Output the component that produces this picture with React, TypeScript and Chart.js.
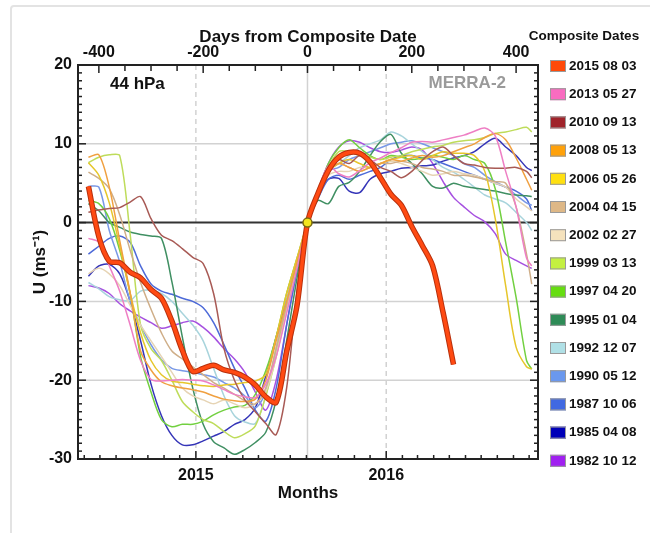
import React, { useEffect, useRef } from "react";
import { Chart, registerables } from "chart.js";

Chart.register(...registerables);

const FONT = '"Liberation Sans", Arial, Helvetica, sans-serif';

// x grid (days from composite date)
const DAYS = [-420, -400, -380, -360, -340, -320, -300, -280, -260, -240, -220, -200, -180, -160, -140, -120, -100, -80, -60, -40, -20,
  0, 20, 40, 60, 80, 100, 120, 140, 160, 180, 200, 220, 240, 260, 280, 300, 320, 340, 360, 380, 400, 420, 430];

const U_2015 = [4.6, -1.8, -4.9, -5.1, -6.3, -7.0, -8.5, -9.6, -12.5, -16.2, -18.9, -18.5, -18.1, -18.7, -19.0, -19.6, -20.6, -22.1, -22.8, -16.4, -10.5,
  0, 3.7, 6.6, 8.3, 8.9, 8.8, 7.7, 5.7, 3.6, 2.2, -0.5, -2.9, -5.5, -11.4, -18.0, null, null, null, null, null, null, null, null];
const U_2013 = [-2.0, -2.5, -5.5, -8.7, -13.0, -17.5, -19.9, -20.1, -20.0, -19.9, -20.0, -20.1, -20.6, -21.2, -21.8, -22.1, -22.2, -20.5, -17.0, -11.5, -5.8,
  0, 4.0, 7.2, 6.2, 5.8, 6.6, 7.6, 8.2, 8.9, 9.5, 10.2, 10.3, 10.2, 10.5, 10.8, 11.1, 11.6, 12.0, 11.0, 6.5, 2.0, -4.5, -5.5];
const U_2010 = [1.3, 1.6, 1.8, 1.9, 2.6, 3.3, 0.5, -1.6, -2.3, -3.3, -4.4, -5.2, -9.0, -16.0, -20.0, -22.5, -24.0, -25.5, -26.9, -21.0, -8.7,
  0, 4.0, 7.0, 8.0, 7.5, 8.5, 8.0, 7.0, 6.5, 5.7, 6.5, 7.9, 9.0, 9.6, 8.5, 7.5, 7.3, 7.0, 6.9, 6.9, 7.0, 6.5, 5.7];
const U_2008 = [8.3, 8.6, 4.5, -2.3, -8.9, -16.3, -18.7, -20.2, -20.7, -21.0, -21.2, -21.5, -22.0, -22.4, -22.6, -22.7, -22.4, -20.0, -15.0, -10.0, -5.0,
  0, 3.8, 6.5, 7.5, 7.0, 6.5, 7.0, 7.5, 8.0, 7.8, 8.2, 8.5, 8.3, 8.5, 9.0, 9.5, 10.0, 10.8, 11.3, 10.5, 8.2, 5.5, 4.1];
const U_2006 = [7.6, 6.0, 2.5, -3.0, -9.0, -14.0, -17.5, -19.3, -20.1, -20.3, -20.5, -20.7, -20.8, -20.6, -20.5, -20.3, -20.1, -19.3, -14.5, -9.0, -4.5,
  0, 3.5, 6.5, 7.5, 8.0, 7.5, 7.0, 7.5, 8.0, 8.3, 8.5, 8.0, 8.5, 9.0, 8.8, 8.8, 8.5, 6.5, 0.5, -8.0, -15.8, -18.3, -18.6];
const U_2004 = [6.4, 5.6, 4.3, 1.0, -3.5, -7.6, -11.0, -14.0, -16.3, -17.3, -18.3, -19.3, -20.3, -21.0, -21.8, -22.6, -23.0, -21.0, -16.0, -10.5, -5.0,
  0, 3.5, 6.5, 7.5, 7.0, 6.5, 7.0, 7.5, 7.5, 7.8, 7.5, 7.0, 6.8, 6.5, 6.0, 6.0, 5.8, 5.5, 5.2, 5.0, 2.0, -4.0, -7.8];
const U_2002 = [-6.5, -5.8, -6.5, -8.0, -10.5, -13.0, -15.0, -17.0, -19.0, -21.0, -22.0, -22.5, -23.0, -22.5, -23.0, -23.5, -23.0, -21.5, -17.0, -11.0, -5.0,
  0, 3.5, 6.0, 6.5, 6.5, 7.0, 7.0, 7.5, 7.8, 7.5, 7.0, 6.5, 6.0, 6.2, 6.5, 6.2, 6.0, 5.5, 5.0, 4.5, 3.0, 2.0, 1.5];
const U_1999 = [7.6, 8.3, 8.6, 8.5, -1.5, -13.0, -16.0, -17.5, -20.0, -22.7, -24.0, -25.0, -25.5, -26.5, -27.3, -26.8, -25.8, -22.0, -17.0, -11.0, -5.0,
  0, 3.5, 7.0, 9.0, 9.0, 8.5, 8.3, 8.0, 8.3, 8.5, 9.0, 9.3, 9.6, 9.8, 10.2, 10.4, 10.5, 10.8, 11.3, 11.5, 11.8, 12.1, 11.5];
const U_1997 = [2.8, 2.4, 0.5, -3.5, -9.0, -17.0, -21.5, -25.0, -25.9, -25.6, -25.6, -25.2, -24.4, -23.8, -23.4, -23.2, -21.8, -18.8, -14.5, -9.0, -4.5,
  0, 4.0, 7.5, 9.5, 10.5, 9.5, 8.5, 8.0, 8.5, 8.3, 8.0, 8.2, 8.5, 8.3, 8.0, 8.5, 8.0, 7.5, 4.3, -2.5, -9.5, -17.5, -18.6];
const U_1995 = [2.4, 1.5, 0.0, -0.6, -1.2, -1.5, -1.7, -2.0, -7.5, -14.5, -21.0, -25.6, -27.8, -28.6, -29.4, -28.8, -27.9, -26.6, -22.5, -15.0, -7.0,
  0, 2.8, 2.4, 4.6, 5.1, 6.5, 8.5, 10.3, 11.2, 8.8, 7.5, 6.2, 4.6, 4.4, 5.0, 4.6, 4.4, 4.2, 4.0, 3.7, 3.5, 3.4, 3.3];
const U_1992 = [-7.6, -8.4, -9.4, -9.8, -9.9, -8.7, -8.6, -9.0, -10.0, -11.5, -13.0, -15.0, -18.5, -22.0, -24.5, -25.3, -25.5, -22.0, -16.0, -10.0, -5.0,
  0, 3.5, 6.5, 7.5, 8.5, 9.5, 10.0, 10.5, 11.5, 11.0, 10.0, 9.0, 8.0, 7.0, 6.4, 5.5, 4.5, 3.5, 3.0, 2.5, 1.3, 0.0, -1.0];
const U_1990 = [4.6, 4.5, -1.0, -5.0, -10.0, -13.0, -15.5, -17.4, -18.5, -18.8, -19.0, -19.3, -19.6, -20.3, -21.0, -22.0, -23.5, -21.5, -16.0, -10.0, -5.0,
  0, 3.5, 6.5, 7.0, 8.0, 8.5, 9.0, 9.5, 10.0, 10.2, 10.4, 10.0, 9.5, 9.0, 8.5, 7.5, 7.0, 6.0, 5.2, 4.5, 3.5, 2.5, 2.2];
const U_1987 = [-4.0, -3.0, -2.0, -1.7, -2.5, -5.5, -7.8, -8.7, -9.1, -9.6, -10.0, -10.8, -12.7, -15.5, -18.5, -21.0, -23.8, -25.2, -21.0, -13.0, -6.0,
  0, 3.0, 5.5, 6.0, 5.5, 6.0, 6.5, 7.0, 8.0, 8.5, 8.5, 8.2, 8.0, 7.5, 7.0, 6.5, 6.0, 5.5, 5.0, 4.5, 4.0, 3.0, 1.5];
const U_1985 = [-6.8, -5.5, -5.3, -6.5, -10.0, -15.0, -20.5, -24.5, -27.0, -28.2, -28.2, -27.7, -27.1, -26.5, -25.6, -25.0, -23.5, -19.5, -14.5, -10.0, -5.0,
  0, 3.5, 5.5, 5.6, 4.0, 3.8, 5.5, 6.2, 6.5, 6.9, 7.0, 7.2, 7.3, 7.8, 8.2, 8.5, 9.0, 10.0, 10.7, 9.6, 8.5, 7.0, 6.6];
const U_1982 = [-8.0, -8.3, -9.0, -10.3, -11.2, -12.0, -12.7, -13.4, -13.1, -12.7, -12.5, -13.3, -14.5, -16.0, -17.3, -19.0, -21.5, -23.8, -20.0, -13.0, -6.0,
  0, 4.0, 7.5, 9.6, 10.4, 10.2, 9.5, 9.0, 8.9, 9.2, 9.6, 9.2, 7.5, 5.2, 3.2, 2.0, 0.9, 0.1, -1.4, -4.0, -4.8, -5.5, -5.8];

const COMPOSITE_DATES = ["2015 08 03", "2013 05 27", "2010 09 13", "2008 05 13", "2006 05 26", "2004 04 15", "2002 02 27",
  "1999 03 13", "1997 04 20", "1995 01 04", "1992 12 07", "1990 05 12", "1987 10 06", "1985 04 08", "1982 10 12"];
const SERIES_VALUES = [U_2015, U_2013, U_2010, U_2008, U_2006, U_2004, U_2002, U_1999, U_1997, U_1995, U_1992, U_1990, U_1987, U_1985, U_1982];
const SWATCH_COLORS = ["#ff4a0a", "#f86cc0", "#a0232a", "#ffa10a", "#ffe010", "#deb887", "#f5e2bd", "#c4f040", "#66dd11", "#2e8b57",
  "#b0e0e6", "#6a98ee", "#4169e1", "#0000b8", "#a020f0"];
const LINE_COLORS = ["#ff4a12", "#ee7fc4", "#a85a55", "#f0a040", "#e6c62a", "#cfae88", "#e6d4b4", "#bedc5a", "#72d040", "#3f8f62",
  "#a8d4dc", "#7898e6", "#4d6ad8", "#3535b8", "#a650e0"];

const X_MIN = -440;
const X_MAX = 442;
const Y_MIN = -30;
const Y_MAX = 20;
const DAY_TICK_LABELS = [-400, -200, 0, 200, 400];
const YEAR_TICK_LABELS = ["2015", "2016"];
const Y_TICK_LABELS = [-30, -20, -10, 0, 10, 20];
const H_GRID = [10, -10, -20];
const COMPOSITE_ORIGIN = Date.UTC(2015, 7, 3);

function buildMonthTicks() {
  const out: { value: number; label: string }[] = [];
  for (let y = 2014; y <= 2016; y++) {
    for (let m = 0; m < 12; m++) {
      const d = (Date.UTC(y, m, 1) - COMPOSITE_ORIGIN) / 86400000;
      if (d >= X_MIN && d <= X_MAX) {
        const lab = m === 0 && YEAR_TICK_LABELS.includes(String(y)) ? String(y) : "";
        out.push({ value: d, label: lab });
      }
    }
  }
  return out;
}
const MONTH_TICKS = buildMonthTicks();

function line(ctx: CanvasRenderingContext2D, x1: number, y1: number, x2: number, y2: number) {
  ctx.beginPath();
  ctx.moveTo(x1, y1);
  ctx.lineTo(x2, y2);
  ctx.stroke();
}

const framePlugin = {
  id: "framePlugin",
  beforeDatasetsDraw(chart: any) {
    const { ctx, chartArea } = chart;
    const { left, right, top, bottom } = chartArea;
    const y = chart.scales.y;
    const x = chart.scales.x;
    const xt = chart.scales.xTop;
    ctx.save();
    ctx.strokeStyle = "#d2d2d2";
    ctx.lineWidth = 1.5;
    for (const v of H_GRID) {
      const py = y.getPixelForValue(v);
      line(ctx, left, py, right, py);
    }
    // day 0 vertical
    const p0 = xt.getPixelForValue(0);
    line(ctx, p0, top, p0, bottom);
    // january dashed lines
    ctx.setLineDash([5, 4]);
    for (const t of MONTH_TICKS) {
      if (t.label) {
        const px = x.getPixelForValue(t.value);
        line(ctx, px, top, px, bottom);
      }
    }
    ctx.setLineDash([]);
    // zero line
    ctx.strokeStyle = "#333";
    ctx.lineWidth = 2;
    const pz = y.getPixelForValue(0);
    line(ctx, left, pz, right, pz);
    ctx.restore();
  },
  afterDatasetsDraw(chart: any) {
    const { ctx, chartArea } = chart;
    const { left, right, top, bottom } = chartArea;
    const y = chart.scales.y;
    const x = chart.scales.x;
    const xt = chart.scales.xTop;
    ctx.save();
    ctx.strokeStyle = "#222";
    ctx.lineWidth = 1.5;
    for (const t of y.ticks) {
      const py = y.getPixelForValue(t.value);
      const len = Y_TICK_LABELS.includes(t.value) ? 8 : 4;
      line(ctx, left, py, left + len, py);
      line(ctx, right, py, right - len, py);
    }
    for (const t of xt.ticks) {
      const px = xt.getPixelForValue(t.value);
      const len = DAY_TICK_LABELS.includes(t.value) ? 8 : 6;
      line(ctx, px, top, px, top + len);
    }
    for (const t of MONTH_TICKS) {
      const px = x.getPixelForValue(t.value);
      const len = t.label ? 8 : 4;
      line(ctx, px, bottom, px, bottom - len);
    }
    ctx.lineWidth = 2;
    ctx.strokeRect(left, top, right - left, bottom - top);
    ctx.restore();
  },
  afterDraw(chart: any) {
    const { ctx } = chart;
    ctx.save();
    ctx.textBaseline = "middle";
    ctx.font = "bold 17px " + FONT;
    ctx.fillStyle = "#111";
    ctx.textAlign = "left";
    ctx.fillText("44 hPa", 110, 84);
    ctx.fillStyle = "#9a9a9a";
    ctx.textAlign = "right";
    ctx.fillText("MERRA-2", 506, 83);
    // legend
    ctx.fillStyle = "#111";
    ctx.textAlign = "center";
    ctx.font = "bold 13.5px " + FONT;
    ctx.fillText("Composite Dates", 584, 36);
    ctx.textAlign = "left";
    let i = 0;
    for (const ds of chart.data.datasets) {
      if (!ds.inLegend) continue;
      const cy = 66 + i * 28.2;
      ctx.fillStyle = ds.swatch;
      ctx.fillRect(550, cy - 6, 16, 12);
      ctx.strokeStyle = "#9a9a9a";
      ctx.lineWidth = 1;
      ctx.strokeRect(550.5, cy - 5.5, 15, 11);
      ctx.fillStyle = "#111";
      ctx.fillText(ds.label, 569, cy);
      i++;
    }
    ctx.restore();
  },
};

export default function App() {
  const ref = useRef<HTMLCanvasElement | null>(null);
  useEffect(() => {
    if (!ref.current) return;
    const datasets: any[] = [];
    datasets.push({
      label: "zero crossing",
      inLegend: false,
      data: [{ x: 0, y: 0 }],
      showLine: false,
      pointRadius: 4.5,
      pointBackgroundColor: "#f2e41e",
      pointBorderColor: "#7a6a10",
      pointBorderWidth: 1.5,
      order: -1,
    });
    SERIES_VALUES.forEach((vals, k) => {
      const pts = DAYS.map((d, i) => ({ x: d, y: vals[i] }));
      datasets.push({
        label: COMPOSITE_DATES[k],
        inLegend: true,
        swatch: SWATCH_COLORS[k],
        data: pts,
        borderColor: LINE_COLORS[k],
        borderWidth: k === 0 ? 3.5 : 1.5,
        pointRadius: 0,
        tension: 0.3,
        spanGaps: false,
        order: k === 0 ? 0 : 2 + k,
      });
      if (k === 0) {
        datasets.push({
          label: "outline",
          inLegend: false,
          data: pts,
          borderColor: "#b8300c",
          borderWidth: 5.5,
          pointRadius: 0,
          tension: 0.3,
          order: 1,
        });
      }
    });

    const tickFont = { family: FONT, size: 16, weight: "bold" as const };
    const titleFont = { family: FONT, size: 17, weight: "bold" as const };

    const chart = new Chart(ref.current, {
      type: "line",
      data: { datasets },
      plugins: [framePlugin],
      options: {
        responsive: false,
        animation: false,
        devicePixelRatio: 1,
        layout: { padding: 0 },
        plugins: { legend: { display: false }, tooltip: { enabled: false } },
        scales: {
          x: {
            type: "linear",
            position: "bottom",
            min: X_MIN,
            max: X_MAX,
            afterBuildTicks: (s: any) => {
              s.ticks = MONTH_TICKS.map((t) => ({ value: t.value }));
            },
            ticks: {
              autoSkip: false,
              maxRotation: 0,
              padding: 7,
              color: "#111",
              font: tickFont,
              callback: (v: any) => {
                const t = MONTH_TICKS.find((m) => Math.abs(m.value - v) < 0.01);
                return t ? t.label : "";
              },
            },
            grid: { display: false, drawTicks: false },
            border: { display: false },
            title: { display: true, text: "Months", color: "#111", font: titleFont, padding: { top: 0, bottom: 29 } },
            afterFit: (s: any) => {
              s.height = 74;
            },
          },
          xTop: {
            type: "linear",
            position: "top",
            min: X_MIN,
            max: X_MAX,
            ticks: {
              stepSize: 50,
              includeBounds: false,
              autoSkip: false,
              maxRotation: 0,
              padding: 3,
              color: "#111",
              font: tickFont,
              callback: (v: any) => (DAY_TICK_LABELS.includes(v) ? String(v) : ""),
            },
            grid: { display: false, drawTicks: false },
            border: { display: false },
            title: { display: true, text: "Days from Composite Date", color: "#111", font: titleFont, padding: { top: 27, bottom: 0 } },
            afterFit: (s: any) => {
              s.height = 65;
            },
          },
          y: {
            type: "linear",
            position: "left",
            min: Y_MIN,
            max: Y_MAX,
            ticks: {
              stepSize: 1,
              autoSkip: false,
              padding: 6,
              color: "#111",
              font: tickFont,
              callback: (v: any) => (Y_TICK_LABELS.includes(v) ? String(v) : ""),
            },
            grid: { display: false, drawTicks: false },
            border: { display: false },
            title: { display: true, text: "U (ms\u207B\u00B9)", color: "#111", font: titleFont, padding: { top: 30, bottom: 0 } },
            afterFit: (s: any) => {
              s.width = 78;
            },
          },
          yRight: {
            type: "linear",
            position: "right",
            min: Y_MIN,
            max: Y_MAX,
            ticks: { display: false, stepSize: 10 },
            grid: { display: false, drawTicks: false },
            border: { display: false },
            afterFit: (s: any) => {
              s.width = 112;
            },
          },
        },
      } as any,
    });
    return () => chart.destroy();
  }, []);

  return (
    <div style={{ position: "fixed", left: 0, top: 0, width: 650, height: 533, overflow: "hidden", background: "#fff" }}>
      <div
        style={{
          position: "absolute",
          left: 10,
          top: 5,
          width: 700,
          height: 600,
          border: "2px solid #e3e3e3",
          borderRadius: 4,
          boxSizing: "border-box",
        }}
      />
      <canvas ref={ref} width={650} height={533} style={{ position: "absolute", left: 0, top: 0, display: "block" }} />
    </div>
  );
}
